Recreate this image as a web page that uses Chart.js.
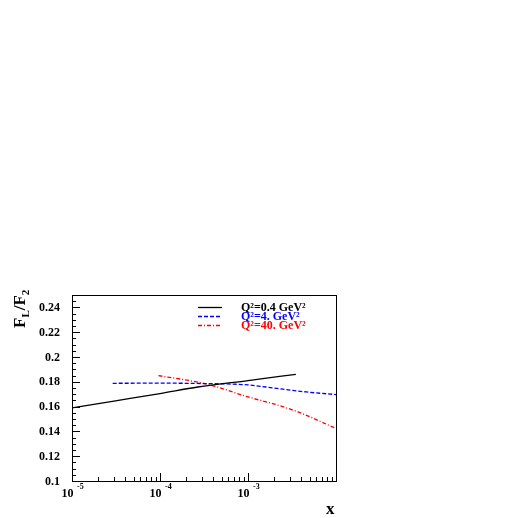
<!DOCTYPE html>
<html>
<head>
<meta charset="utf-8">
<script src="https://cdn.jsdelivr.net/npm/chart.js@4/dist/chart.umd.min.js"></script>
<style>
  html, body { margin: 0; padding: 0; background: #fff; }
  #wrap { width: 518px; height: 518px; position: relative; }
</style>
</head>
<body>
<div id="wrap"><canvas id="cChart" width="518" height="518"></canvas></div>
<script>
// values
var seriesLabels = ['Q\u00b2=0.4 GeV\u00b2', 'Q\u00b2=4. GeV\u00b2', 'Q\u00b2=40. GeV\u00b2'];
var blackX = [1e-5, 3e-5, 1e-4, 2.7e-4, 1e-3, 3.5e-3];
var blackY = [0.159, 0.1645, 0.1705, 0.1758, 0.181, 0.186];
var blueX = [2.9e-5, 1e-4, 3e-4, 1e-3, 1.6e-3, 4.6e-3, 1e-2];
var blueY = [0.1788, 0.1789, 0.1786, 0.1775, 0.1758, 0.1718, 0.1697];
var redX = [9.6e-5, 2.7e-4, 4.2e-4, 1e-3, 2e-3, 3.7e-3, 1e-2];
var redY = [0.185, 0.1797, 0.1764, 0.1678, 0.162, 0.1557, 0.1424];
var yTickLabels = ['0.1', '0.12', '0.14', '0.16', '0.18', '0.2', '0.22', '0.24'];
var xTickExp = [-5, -4, -3];

function pts(xs, ys) {
  var out = [];
  for (var i = 0; i < xs.length; i++) out.push({x: xs[i], y: ys[i]});
  return out;
}

var serif = '"Liberation Serif", "Times New Roman", serif';

var rootFrame = {
  id: 'rootFrame',
  afterDatasetsDraw: function(chart) {
    var ctx = chart.ctx, a = chart.chartArea;
    var xs = chart.scales.x, ys = chart.scales.y;
    ctx.save();
    ctx.strokeStyle = '#000';
    ctx.lineWidth = 1;
    ctx.strokeRect(Math.round(a.left) + 0.5, Math.round(a.top) + 0.5,
      Math.round(a.right - a.left), Math.round(a.bottom - a.top));

    // y ticks (inward), minor every 0.005
    ctx.beginPath();
    for (var k = 0; k <= 30; k++) {
      var v = 0.1 + k * 0.005;
      var py = Math.round(ys.getPixelForValue(v)) + 0.5;
      var len = (k % 4 === 0) ? 8 : 4;
      ctx.moveTo(a.left, py);
      ctx.lineTo(a.left + len, py);
    }
    // x ticks (inward)
    for (var e = -5; e < -2; e++) {
      for (var m = 1; m <= 9; m++) {
        var val = m * Math.pow(10, e);
        var px = Math.round(xs.getPixelForValue(val)) + 0.5;
        var l2 = (m === 1) ? 8 : 4;
        ctx.moveTo(px, a.bottom);
        ctx.lineTo(px, a.bottom - l2);
      }
    }
    ctx.stroke();

    // y tick labels
    ctx.fillStyle = '#000';
    ctx.font = 'bold 12px ' + serif;
    ctx.textAlign = 'right';
    ctx.textBaseline = 'middle';
    for (var i = 0; i < yTickLabels.length; i++) {
      var yy = ys.getPixelForValue(parseFloat(yTickLabels[i]));
      ctx.fillText(yTickLabels[i], a.left - 12, yy + 0.5);
    }

    // x tick labels: 10 with superscript exponent
    ctx.textBaseline = 'alphabetic';
    for (var j = 0; j < xTickExp.length; j++) {
      var xx = xs.getPixelForValue(Math.pow(10, xTickExp[j]));
      ctx.font = 'bold 12px ' + serif;
      ctx.textAlign = 'right';
      ctx.fillText('10', xx + 1.5, 497);
      ctx.font = 'bold 8px ' + serif;
      ctx.textAlign = 'left';
      ctx.fillText(String(xTickExp[j]), xx + 5, 489);
    }

    // axis titles
    ctx.font = 'bold 17px ' + serif;
    ctx.textAlign = 'left';
    ctx.fillText('x', 326, 514);

    ctx.save();
    ctx.translate(25, 328);
    ctx.rotate(-Math.PI / 2);
    ctx.font = 'bold 17px ' + serif;
    ctx.fillText('F', 0, 0);
    var w = ctx.measureText('F').width;
    ctx.font = 'bold 11px ' + serif;
    ctx.fillText('L', w, 4);
    w += ctx.measureText('L').width;
    ctx.font = 'bold 17px ' + serif;
    ctx.fillText('/F', w, 0);
    w += ctx.measureText('/F').width;
    ctx.font = 'bold 11px ' + serif;
    ctx.fillText('2', w, 4);
    ctx.restore();

    // legend
    var rowY = [307.5, 316.5, 325.5];
    chart.data.datasets.forEach(function(ds, n) {
      ctx.beginPath();
      ctx.strokeStyle = ds.borderColor;
      ctx.lineWidth = ds.borderWidth;
      ctx.setLineDash(ds.borderDash || []);
      ctx.moveTo(198, rowY[n]);
      ctx.lineTo(222, rowY[n]);
      ctx.stroke();
      ctx.setLineDash([]);
      ctx.fillStyle = ds.borderColor;
      ctx.font = 'bold 12px ' + serif;
      ctx.textAlign = 'left';
      ctx.textBaseline = 'middle';
      ctx.fillText(ds.label, 241, rowY[n] + 0.5);
    });
    ctx.restore();
  }
};

var ctx = document.getElementById('cChart');
var chartInstance = new Chart(ctx, {
  type: 'line',
  data: {
    datasets: [
      { label: seriesLabels[0], data: pts(blackX, blackY), borderColor: '#000000',
        borderWidth: 1.3, pointRadius: 0, cubicInterpolationMode: 'monotone', fill: false },
      { label: seriesLabels[1], data: pts(blueX, blueY), borderColor: '#0000ff',
        borderWidth: 1.3, borderDash: [4, 2], pointRadius: 0, cubicInterpolationMode: 'monotone', fill: false },
      { label: seriesLabels[2], data: pts(redX, redY), borderColor: '#ff0000',
        borderWidth: 1.3, borderDash: [4, 2, 1, 2], pointRadius: 0, cubicInterpolationMode: 'monotone', fill: false }
    ]
  },
  options: {
    responsive: false,
    animation: false,
    devicePixelRatio: 1,
    layout: { padding: { left: 72, top: 295, right: 182, bottom: 37 } },
    plugins: { legend: { display: false }, tooltip: { enabled: false } },
    scales: {
      x: { type: 'logarithmic', min: 1e-5, max: 1e-2, display: false },
      y: { type: 'linear', min: 0.1, max: 0.25, display: false }
    }
  },
  plugins: [rootFrame]
});
</script>
</body>
</html>
